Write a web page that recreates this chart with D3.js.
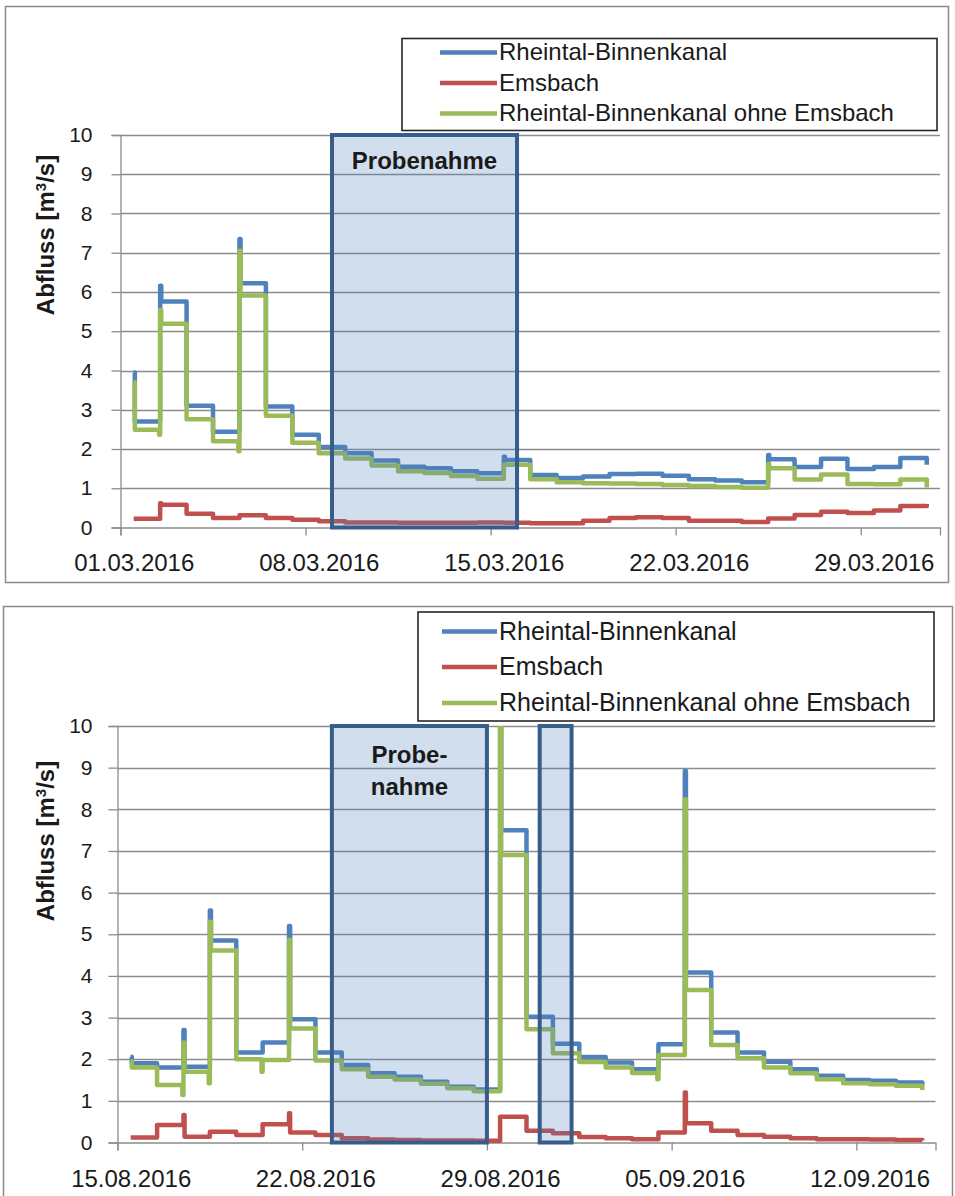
<!DOCTYPE html>
<html>
<head>
<meta charset="utf-8">
<script src="https://cdnjs.cloudflare.com/ajax/libs/d3/7.8.5/d3.min.js"></script>
<style>
  html, body { margin: 0; padding: 0; background: #fff; }
  svg { display: block; }
  text { font-family: "Liberation Sans", Arial, sans-serif; fill: #1a1a1a; }
</style>
</head>
<body>
<svg id="chart" width="955" height="1196"></svg>
<script>
// ---------- Daily discharge, March 2016 (m³/s) ----------
const marchDates = ["01.03.2016","02.03.2016","03.03.2016","04.03.2016","05.03.2016","06.03.2016","07.03.2016",
  "08.03.2016","09.03.2016","10.03.2016","11.03.2016","12.03.2016","13.03.2016","14.03.2016","15.03.2016",
  "16.03.2016","17.03.2016","18.03.2016","19.03.2016","20.03.2016","21.03.2016","22.03.2016","23.03.2016",
  "24.03.2016","25.03.2016","26.03.2016","27.03.2016","28.03.2016","29.03.2016","30.03.2016","31.03.2016"];
const rbkMarch  = [2.70,5.76,3.10,2.44,6.22,3.08,2.36,2.05,1.89,1.71,1.55,1.51,1.43,1.38,1.72,1.34,
  1.26,1.30,1.36,1.37,1.32,1.23,1.20,1.15,1.74,1.54,1.75,1.49,1.54,1.77,1.60];
const emsMarch  = [0.22,0.58,0.35,0.24,0.31,0.24,0.20,0.16,0.13,0.13,0.12,0.12,0.12,0.13,0.12,0.11,
  0.11,0.17,0.24,0.26,0.24,0.17,0.17,0.14,0.23,0.32,0.40,0.37,0.43,0.55,0.60];
const ohneMarch = [2.49,5.19,2.76,2.20,5.91,2.85,2.16,1.89,1.76,1.58,1.43,1.39,1.31,1.24,1.60,1.23,
  1.15,1.13,1.12,1.11,1.08,1.06,1.03,1.01,1.51,1.22,1.35,1.11,1.10,1.22,1.02];
// short-lived peaks at the start of a day and dips just before it
const rbkMarchPeaks  = [["01.03.2016",3.95],["02.03.2016",6.16],["05.03.2016",7.35],["15.03.2016",1.80],["25.03.2016",1.85]];
const emsMarchPeaks  = [["02.03.2016",0.62]];
const ohneMarchPeaks = [["01.03.2016",3.70],["02.03.2016",5.54],["05.03.2016",7.05],["25.03.2016",1.62]];
const ohneMarchDips  = [["02.03.2016",2.36],["05.03.2016",1.94]];
const marchTicks = ["01.03.2016","08.03.2016","15.03.2016","22.03.2016","29.03.2016"];
const marchSampling = [["09.03.2016 00:00","16.03.2016 00:00"]];

// ---------- Daily discharge, August/September 2016 (m³/s) ----------
const augDates = ["15.08.2016","16.08.2016","17.08.2016","18.08.2016","19.08.2016","20.08.2016","21.08.2016",
  "22.08.2016","23.08.2016","24.08.2016","25.08.2016","26.08.2016","27.08.2016","28.08.2016","29.08.2016",
  "30.08.2016","31.08.2016","01.09.2016","02.09.2016","03.09.2016","04.09.2016","05.09.2016","06.09.2016",
  "07.09.2016","08.09.2016","09.09.2016","10.09.2016","11.09.2016","12.09.2016","13.09.2016","14.09.2016"];
const rbkAug  = [1.90,1.80,1.82,4.85,2.16,2.40,2.96,2.16,1.86,1.66,1.58,1.46,1.34,1.27,7.50,3.02,
  2.37,2.05,1.92,1.76,2.36,4.08,2.64,2.16,1.94,1.76,1.60,1.50,1.48,1.44,1.38];
const emsAug  = [0.12,0.42,0.14,0.26,0.18,0.44,0.24,0.18,0.10,0.07,0.06,0.05,0.05,0.04,0.62,0.28,
  0.22,0.13,0.10,0.08,0.24,0.46,0.28,0.18,0.14,0.10,0.08,0.08,0.07,0.06,0.05];
const ohneAug = [1.80,1.38,1.70,4.61,2.00,1.98,2.74,1.97,1.76,1.58,1.51,1.41,1.30,1.23,6.90,2.72,
  2.14,1.93,1.80,1.67,2.10,3.66,2.34,2.02,1.80,1.66,1.52,1.42,1.40,1.36,1.26];
const rbkAugPeaks  = [["15.08.2016",2.06],["17.08.2016",2.70],["18.08.2016",5.57],["21.08.2016",5.20],["29.08.2016",11.0],["05.09.2016",8.92]];
const emsAugPeaks  = [["17.08.2016",0.66],["21.08.2016",0.70],["05.09.2016",1.20]];
const ohneAugPeaks = [["15.08.2016",1.95],["17.08.2016",2.40],["18.08.2016",5.30],["21.08.2016",4.86],["29.08.2016",11.0],["05.09.2016",8.24]];
const ohneAugDips  = [["17.08.2016",1.14],["18.08.2016",1.42],["20.08.2016",1.70],["04.09.2016",1.52]];
const augTicks = ["15.08.2016","22.08.2016","29.08.2016","05.09.2016","12.09.2016"];
const augSampling = [["23.08.2016 03:00","29.08.2016 00:00"],["31.08.2016 00:00","01.09.2016 05:00"]];

const seriesNames  = ["Rheintal-Binnenkanal","Emsbach","Rheintal-Binnenkanal ohne Emsbach"];
const seriesColors = ["#4F81BD","#C0504D","#9BBB59"];
const yTickValues  = [0,1,2,3,4,5,6,7,8,9,10];

const parseDay  = d3.utcParse("%d.%m.%Y");
const parseTime = d3.utcParse("%d.%m.%Y %H:%M");
const fmtDay    = d3.utcFormat("%d.%m.%Y");

// Step series: each daily value holds from the day's slot centre to the next one
function buildPoints(dates, values, peaks, dips) {
  const peakMap = new Map(peaks || []);
  const dipMap  = new Map(dips || []);
  const pts = [];
  dates.forEach((s, i) => {
    const t = d3.utcHour.offset(parseDay(s), 12);
    if (dipMap.has(s)) pts.push({ t: d3.utcHour.offset(t, -1), v: dipMap.get(s) });
    if (peakMap.has(s)) {
      pts.push({ t, v: peakMap.get(s) });
      pts.push({ t: d3.utcHour.offset(t, 1), v: values[i] });
    } else {
      pts.push({ t, v: values[i] });
    }
  });
  return pts;
}

const svg = d3.select("#chart");

function drawPanel(cfg, id) {
  const g = svg.append("g");

  // outer chart border
  g.append("rect")
    .attr("x", cfg.frame[0]).attr("y", cfg.frame[1])
    .attr("width", cfg.frame[2]).attr("height", cfg.frame[3])
    .attr("fill", "#fff").attr("stroke", "#8a8a8a").attr("stroke-width", 1.5);

  const start = parseDay(cfg.dates[0]);
  const x = d3.scaleUtc()
    .domain([start, d3.utcDay.offset(start, 31)])
    .range([cfg.plot.x0, cfg.plot.x1]);
  const y = d3.scaleLinear().domain([0, 10]).range([cfg.plot.y0, cfg.plot.y1]);
  const halfDay = x(d3.utcHour.offset(start, 12)) - x(start);

  // horizontal gridlines
  g.append("g").selectAll("line").data(yTickValues.filter(v => v > 0)).join("line")
    .attr("x1", cfg.plot.x0).attr("x2", cfg.plot.x1)
    .attr("y1", d => Math.round(y(d)) + 0.5).attr("y2", d => Math.round(y(d)) + 0.5)
    .attr("stroke", "#8c8c8c").attr("stroke-width", 1.3);

  // y axis
  const yAxis = g.append("g")
    .attr("transform", `translate(${cfg.plot.x0},0)`)
    .call(d3.axisLeft(y).tickValues(yTickValues).tickSize(9).tickPadding(cfg.yPad).tickFormat(d3.format("d")));
  yAxis.select(".domain").attr("stroke", "#8c8c8c").attr("stroke-width", 1.3);
  yAxis.selectAll(".tick line").attr("stroke", "#8c8c8c").attr("stroke-width", 1.3);
  yAxis.selectAll(".tick text")
    .style("font-family", "\"Liberation Sans\", Arial, sans-serif")
    .style("font-size", "21px").attr("fill", "#1a1a1a");

  // x axis
  const xAxis = g.append("g")
    .attr("transform", `translate(0,${cfg.plot.y0})`)
    .call(d3.axisBottom(x).tickValues(cfg.ticks.map(parseDay)).tickSize(8).tickPadding(0).tickFormat(fmtDay));
  xAxis.select(".domain").attr("stroke", "#8c8c8c").attr("stroke-width", 1.3);
  xAxis.selectAll(".tick line").attr("stroke", "#8c8c8c").attr("stroke-width", 1.3);
  xAxis.selectAll(".tick text")
    .style("font-family", "\"Liberation Sans\", Arial, sans-serif")
    .style("font-size", "24px").attr("fill", "#1a1a1a")
    .attr("x", halfDay).attr("y", cfg.xLabelGap).attr("dy", 0);

  // y axis title
  const title = g.append("text")
    .attr("transform", `translate(${cfg.yTitle[0]},${cfg.yTitle[1]}) rotate(-90)`)
    .attr("text-anchor", "middle")
    .style("font-size", "24px").style("font-weight", "bold");
  title.append("tspan").text("Abfluss [m");
  title.append("tspan").attr("dy", -8).style("font-size", "15px").text("3");
  title.append("tspan").attr("dy", 8).text("/s]");

  // series
  const clipId = "clip-" + id;
  g.append("clipPath").attr("id", clipId).append("rect")
    .attr("x", cfg.plot.x0 - 4).attr("y", cfg.plot.y1)
    .attr("width", cfg.plot.x1 - cfg.plot.x0 + 8).attr("height", cfg.plot.y0 - cfg.plot.y1 + 8);
  const line = d3.line().x(d => x(d.t)).y(d => y(d.v)).curve(d3.curveStepAfter);
  const lines = g.append("g").attr("clip-path", `url(#${clipId})`);
  cfg.series.forEach((s, k) => {
    lines.append("path")
      .datum(buildPoints(cfg.dates, s.values, s.peaks, s.dips))
      .attr("d", line)
      .attr("fill", "none")
      .attr("stroke", seriesColors[k])
      .attr("stroke-width", 4.5)
      .attr("stroke-linejoin", "round");
  });

  // sampling periods
  g.append("g").selectAll("rect").data(cfg.sampling).join("rect")
    .attr("x", d => x(parseTime(d[0])))
    .attr("y", y(10))
    .attr("width", d => x(parseTime(d[1])) - x(parseTime(d[0])))
    .attr("height", y(0) - y(10))
    .attr("fill", "#4F81BD").attr("fill-opacity", 0.26)
    .attr("stroke", "#385D8A").attr("stroke-width", 4);

  const first = cfg.sampling[0];
  const cx = (x(parseTime(first[0])) + x(parseTime(first[1]))) / 2;
  g.append("g").selectAll("text").data(cfg.samplingLabel).join("text")
    .attr("x", cx).attr("y", (d, i) => cfg.samplingLabelY + i * 32)
    .attr("text-anchor", "middle")
    .style("font-size", "24px").style("font-weight", "bold")
    .text(d => d);

  // legend
  const L = cfg.legend;
  g.append("rect")
    .attr("x", L.x).attr("y", L.y).attr("width", L.w).attr("height", L.h)
    .attr("fill", "#fff").attr("stroke", "#262626").attr("stroke-width", 1.6);
  const items = g.append("g").selectAll("g").data(seriesNames).join("g")
    .attr("transform", (d, i) => `translate(0,${L.rowY[i]})`);
  items.append("line")
    .attr("x1", L.lineX[0]).attr("x2", L.lineX[1])
    .attr("stroke", (d, i) => seriesColors[i]).attr("stroke-width", 4.5);
  items.append("text")
    .attr("x", L.lineX[1] + 2).attr("dy", "0.33em")
    .style("font-size", L.font + "px")
    .text(d => d);
}

drawPanel({
  frame: [5.5, 6.5, 943, 576],
  plot: { x0: 120.5, x1: 940, y0: 527.5, y1: 135 },
  dates: marchDates,
  ticks: marchTicks,
  yPad: 19, xLabelGap: 43,
  yTitle: [54, 235],
  series: [
    { values: rbkMarch,  peaks: rbkMarchPeaks },
    { values: emsMarch,  peaks: emsMarchPeaks },
    { values: ohneMarch, peaks: ohneMarchPeaks, dips: ohneMarchDips }
  ],
  sampling: marchSampling,
  samplingLabel: ["Probenahme"],
  samplingLabelY: 169,
  legend: { x: 402, y: 38.5, w: 535, h: 92, rowY: [52.5, 83, 113.5], lineX: [440, 497], font: 24 }
}, "march");

drawPanel({
  frame: [3.5, 606.5, 949, 620],
  plot: { x0: 117.5, x1: 935.5, y0: 1142.5, y1: 726 },
  dates: augDates,
  ticks: augTicks,
  yPad: 16, xLabelGap: 44,
  yTitle: [54, 841],
  series: [
    { values: rbkAug,  peaks: rbkAugPeaks },
    { values: emsAug,  peaks: emsAugPeaks },
    { values: ohneAug, peaks: ohneAugPeaks, dips: ohneAugDips }
  ],
  sampling: augSampling,
  samplingLabel: ["Probe-", "nahme"],
  samplingLabelY: 763,
  legend: { x: 418, y: 612, w: 516, h: 109, rowY: [631.5, 667, 703], lineX: [442, 497], font: 25 }
}, "aug");
</script>
</body>
</html>
